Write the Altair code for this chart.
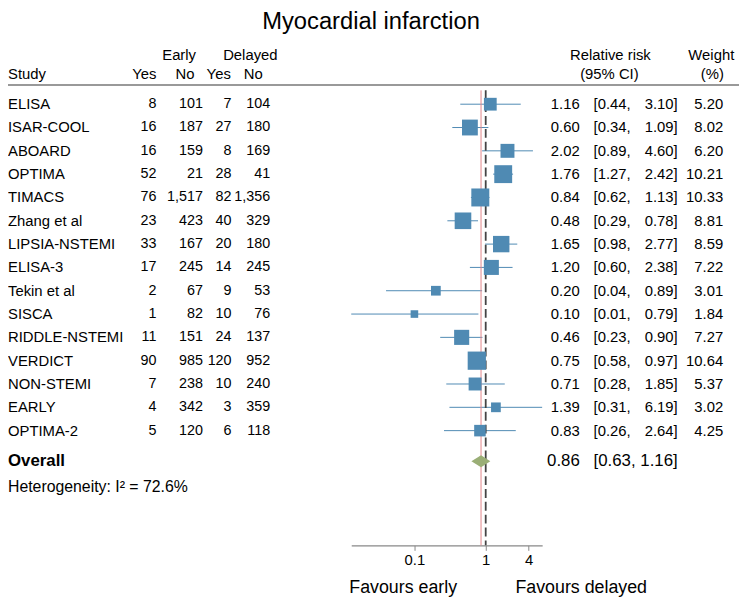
import altair as alt
import pandas as pd

# ---------------- data ----------------
title_text = "Myocardial infarction"
studies = ["ELISA", "ISAR-COOL", "ABOARD", "OPTIMA", "TIMACS", "Zhang et al",
           "LIPSIA-NSTEMI", "ELISA-3", "Tekin et al", "SISCA", "RIDDLE-NSTEMI",
           "VERDICT", "NON-STEMI", "EARLY", "OPTIMA-2"]
early_yes = [8, 16, 16, 52, 76, 23, 33, 17, 2, 1, 11, 90, 7, 4, 5]
early_no = [101, 187, 159, 21, 1517, 423, 167, 245, 67, 82, 151, 985, 238, 342, 120]
delayed_yes = [7, 27, 8, 28, 82, 40, 20, 14, 9, 10, 24, 120, 10, 3, 6]
delayed_no = [104, 180, 169, 41, 1356, 329, 180, 245, 53, 76, 137, 952, 240, 359, 118]
rr = [1.16, 0.60, 2.02, 1.76, 0.84, 0.48, 1.65, 1.20, 0.20, 0.10, 0.46, 0.75, 0.71, 1.39, 0.83]
ci_lo = [0.44, 0.34, 0.89, 1.27, 0.62, 0.29, 0.98, 0.60, 0.04, 0.013, 0.23, 0.58, 0.28, 0.31, 0.26]
ci_hi = [3.10, 1.09, 4.60, 2.42, 1.13, 0.78, 2.77, 2.38, 0.89, 0.79, 0.90, 0.97, 1.85, 6.19, 2.64]
weight = [5.20, 8.02, 6.20, 10.21, 10.33, 8.81, 8.59, 7.22, 3.01, 1.84, 7.27, 10.64, 5.37, 3.02, 4.25]
overall_rr, overall_lo, overall_hi = 0.86, 0.63, 1.16
heterogeneity = "Heterogeneity: I\u00b2 = 72.6%"
x_ticks = [0.1, 1, 4]
null_value = 1

# ---------------- style ----------------
FONT = "Liberation Sans"
BLUE = "#4F8AB3"
GREEN = "#9AAE76"
RED = "#E2868A"
W, H = 739, 540
FS = 15
FSN = 14.5

n = len(studies)
df = pd.DataFrame({
    "study": studies, "ey": early_yes, "en": early_no, "dy": delayed_yes,
    "dn": delayed_no, "rr": rr, "lo": ci_lo, "hi": ci_hi, "w": weight,
})
df["row"] = list(range(n))
df["rr_s"] = [f"{v:.2f}" for v in rr]
df["lo_s"] = [f"[{v:.2f}," for v in ci_lo]
df["hi_s"] = [f"{v:.2f}]" for v in ci_hi]
df["w_s"] = [f"{v:.2f}" for v in weight]

ROW0, ROWN = 94, 424
row_px = (ROWN - ROW0) / (n - 1)
ov_row = (455 - ROW0) / row_px

xscale = alt.Scale(type="log", domain=[min(ci_lo), max(ci_hi)], range=[347, 540], nice=False)
yscale = alt.Scale(domain=[0, n - 1], range=[ROW0, ROWN], nice=False, zero=False)

base = alt.Chart(df)

ci = base.mark_rule(color=BLUE, strokeWidth=1).encode(
    x=alt.X("lo:Q", scale=xscale, axis=alt.Axis(
        values=x_ticks, format="~g", grid=False, title=None,
        domainColor="#888", tickColor="#888", tickSize=5, domainWidth=1.2,
        labelFont=FONT, labelFontSize=15, labelColor="black", labelPadding=2)),
    x2="hi:Q",
    y=alt.Y("row:Q", scale=yscale, axis=None),
)

squares = base.mark_square(color=BLUE, opacity=1).encode(
    x=alt.X("rr:Q", scale=xscale),
    y=alt.Y("row:Q", scale=yscale, axis=None),
    size=alt.Size("w:Q", scale=alt.Scale(type="linear", domain=[0, 10], range=[0, 320]), legend=None),
)

h = 0.26
dia = pd.DataFrame({
    "x": [overall_lo, overall_rr, overall_hi],
    "y": [ov_row, ov_row - h, ov_row],
    "y2": [ov_row, ov_row + h, ov_row],
})
diamond = alt.Chart(dia).mark_area(color=GREEN, orient="vertical", opacity=1).encode(
    x=alt.X("x:Q", scale=xscale),
    y=alt.Y("y:Q", scale=yscale, axis=None),
    y2="y2:Q",
)

null_line = alt.Chart(pd.DataFrame({"v": [null_value]})).mark_rule(
    color="#444", strokeDash=[9, 4], strokeWidth=1.8).encode(
    x=alt.X("v:Q", scale=xscale), y=alt.value(80), y2=alt.value(540))
ov_line = alt.Chart(pd.DataFrame({"v": [overall_rr]})).mark_rule(
    color=RED, strokeWidth=1).encode(
    x=alt.X("v:Q", scale=xscale), y=alt.value(80), y2=alt.value(540))


def col(field, x, align, fmt=None, size=FS):
    t = alt.Text(field, format=fmt) if fmt else alt.Text(field)
    return base.mark_text(align=align, baseline="middle", font=FONT, fontSize=size).encode(
        x=alt.value(x), y=alt.Y("row:Q", scale=yscale, axis=None), text=t)


def label(text, x, y, align="center", size=FS, bold=False, baseline="middle"):
    return alt.Chart(pd.DataFrame({"t": [text]})).mark_text(
        align=align, baseline=baseline, font=FONT, fontSize=size,
        fontWeight="bold" if bold else "normal", color="black").encode(
        x=alt.value(x), y=alt.value(y), text="t:N")


cols = [
    col("study:N", 0, "left"),
    col("ey:Q", 150, "right", ",", FSN),
    col("en:Q", 197, "right", ",", FSN),
    col("dy:Q", 226, "right", ",", FSN),
    col("dn:Q", 265, "right", ",", FSN),
    col("rr_s:N", 578, "right"),
    col("lo_s:N", 592, "left"),
    col("hi_s:N", 677, "right"),
    col("w_s:N", 723, "right"),
]

sep = alt.Chart(pd.DataFrame({"a": [0]})).mark_rule(color="#777", strokeWidth=1.5).encode(
    x=alt.value(0), x2=alt.value(W), y=alt.value(74.5))

labels = [
    label(title_text, 367, 18, size=24, baseline="alphabetic"),
    label("Early", 173, 44),
    label("Delayed", 245, 44),
    label("Relative risk", 609, 44),
    label("Weight", 711, 44),
    label("Study", 0, 64, align="left"),
    label("Yes", 150, 64, align="right"),
    label("No", 179, 64),
    label("Yes", 213, 64),
    label("No", 248, 64),
    label("(95% CI)", 608, 64),
    label("(%)", 712, 64),
    label("Overall", 0, 455, align="left", size=17, bold=True),
    label(f"{overall_rr:.2f}", 578, 455, align="right", size=17),
    label(f"[{overall_lo:.2f},", 592, 455, align="left", size=17),
    label(f"{overall_hi:.2f}]", 677, 455, align="right", size=17),
    label(heterogeneity, 0, 481, align="left", size=16),
    label("Favours early", 345, 588, align="left", size=18, baseline="alphabetic"),
    label("Favours delayed", 513, 588, align="left", size=18, baseline="alphabetic"),
]

chart = alt.layer(ci, null_line, ov_line, squares, diamond, sep, *cols, *labels).properties(
    width=W, height=H,
    padding={"left": 0, "top": 0, "right": 0, "bottom": 55},
    autosize="none",
).configure_view(stroke=None)

chart.save("out.html", embed_options={"renderer": "svg", "actions": False})
